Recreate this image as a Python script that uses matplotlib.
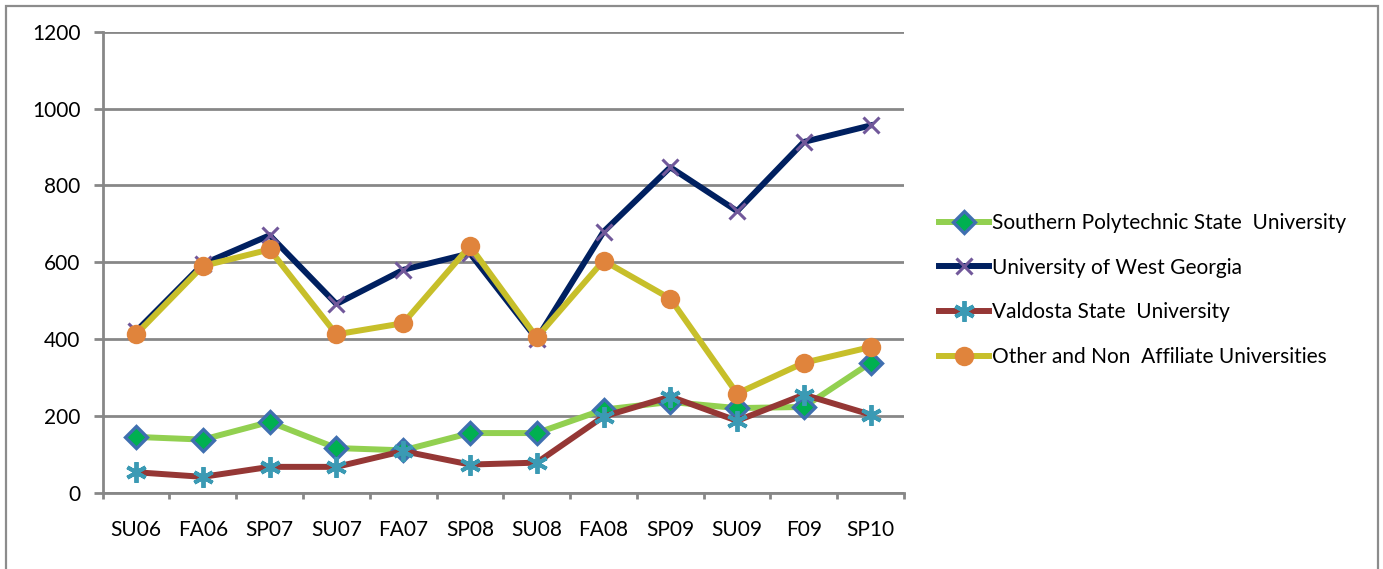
import matplotlib
matplotlib.use("Agg")
import matplotlib.pyplot as plt
from matplotlib.patches import Rectangle

terms = ["SU06", "FA06", "SP07", "SU07", "FA07", "SP08", "SU08", "FA08", "SP09", "SU09", "F09", "SP10"]
southern_poly = [145, 138, 184, 116, 110, 155, 155, 216, 236, 220, 223, 338]
west_georgia = [420, 595, 670, 491, 580, 623, 400, 679, 847, 733, 913, 956]
valdosta = [53, 41, 67, 67, 108, 73, 78, 198, 250, 187, 255, 203]
other_univ = [412, 590, 633, 412, 441, 642, 404, 604, 505, 258, 338, 379]
y_ticks = [0, 200, 400, 600, 800, 1000, 1200]

plt.rcParams['font.family'] = ['Lato', 'DejaVu Sans']

W, H = 1383, 569
fig = plt.figure(figsize=(W / 100, H / 100), dpi=100)
ax = fig.add_axes([102.7 / W, (H - 492.6) / H, (904 - 102.7) / W, (492.6 - 31.7) / H])

# outer frame
fig.patches.append(Rectangle((6 / W, -0.05), (1378 - 6) / W, (H - 6) / H + 0.05,
                             transform=fig.transFigure, fill=False,
                             edgecolor="#8c8c8c", linewidth=1.6))

grey = "#878787"
x = list(range(len(terms)))

ax.plot(x, southern_poly, color="#92d050", lw=4.3, marker="D", markersize=11,
        markerfacecolor="#00b050", markeredgecolor="#3f6fb0", markeredgewidth=2.4,
        label="Southern Polytechnic State  University", zorder=3)
ax.plot(x, west_georgia, color="#002060", lw=4.3, marker="x", markersize=12,
        markeredgecolor="#71589a", markeredgewidth=2.2,
        label="University of West Georgia", zorder=3)
ax.plot(x, valdosta, color="#953735", lw=4.3, marker=(6, 2, 0), markersize=15,
        markeredgecolor="#3b9ab4", markeredgewidth=2.8,
        label="Valdosta State  University", zorder=3)
ax.plot(x, other_univ, color="#c7bf2a", lw=4.3, marker="o", markersize=14,
        markerfacecolor="#e0843c", markeredgecolor="#e0843c", markeredgewidth=0,
        label="Other and Non  Affiliate Universities", zorder=3)

ax.set_xlim(-0.5, len(terms) - 0.5)
ax.set_ylim(0, 1200)
ax.set_yticks(y_ticks)
ax.set_yticklabels([str(v) for v in y_ticks])
ax.set_xticks(x)
ax.set_xticklabels(terms)
ax.set_xticks([i - 0.5 for i in range(len(terms) + 1)], minor=True)

ax.tick_params(axis="x", which="major", length=0, pad=20, labelsize=15, colors="black")
ax.tick_params(axis="x", which="minor", length=4.3, width=2, color=grey, direction="out")
ax.tick_params(axis="y", which="major", length=6.5, width=2, color=grey, pad=9.4, labelsize=15)

ax.grid(axis="y", color=grey, lw=2, zorder=0)
ax.set_axisbelow(True)
for s in ["top", "right"]:
    ax.spines[s].set_visible(False)
for s in ["left", "bottom"]:
    ax.spines[s].set_color(grey)
    ax.spines[s].set_linewidth(2)

leg = fig.legend(loc="center left", bbox_to_anchor=(931 / W, (H - 290) / H),
                 frameon=False, fontsize=15.0, handlelength=2.4, handletextpad=0.12,
                 labelspacing=1.18, borderaxespad=0)

fig.savefig("out.png", dpi=100, facecolor="white")
